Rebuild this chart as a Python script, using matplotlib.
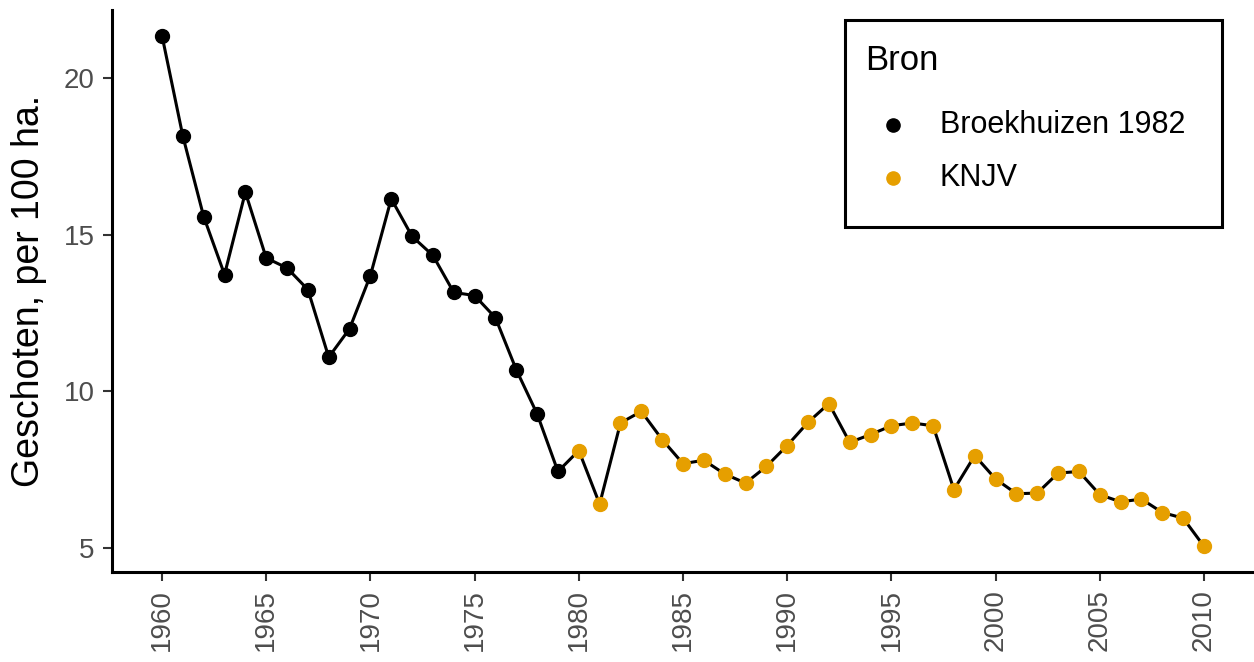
import matplotlib.pyplot as plt
from matplotlib.lines import Line2D
from matplotlib.patches import Rectangle

plt.rcParams['font.family'] = ['Liberation Sans', 'DejaVu Sans']

# jaren en aantallen geschoten per 100 ha
jaren_broek = list(range(1960, 1980))
waarden_broek = [21.36, 18.15, 15.58, 13.73, 16.36, 14.26, 13.94, 13.25, 11.09, 12.0,
                 13.70, 16.15, 14.95, 14.34, 13.16, 13.06, 12.35, 10.69, 9.28, 7.44]
jaren_knjv = list(range(1980, 2011))
waarden_knjv = [8.11, 6.40, 8.99, 9.36, 8.46, 7.69, 7.80, 7.36, 7.07, 7.60,
                8.27, 9.01, 9.61, 8.37, 8.62, 8.90, 8.99, 8.90, 6.86, 7.95,
                7.20, 6.73, 6.75, 7.39, 7.44, 6.70, 6.47, 6.56, 6.13, 5.95, 5.05]
bronnen = ['Broekhuizen 1982', 'KNJV']
kleuren = ['black', '#E69F00']
xticks = list(range(1960, 2011, 5))
yticks = [5, 10, 15, 20]

W, H = 1254, 662
fig = plt.figure(figsize=(W / 100, H / 100), dpi=100)
ax = fig.add_axes([112 / W, 90 / H, 1142 / W, 562 / H])

alle_jaren = jaren_broek + jaren_knjv
alle_waarden = waarden_broek + waarden_knjv
ax.plot(alle_jaren, alle_waarden, color='black', lw=2.2, zorder=2)
ax.plot(jaren_broek, waarden_broek, 'o', color=kleuren[0], ms=10, zorder=3)
ax.plot(jaren_knjv, waarden_knjv, 'o', color=kleuren[1], ms=10, zorder=3)

ax.set_xlim(1957.6, 2012.4)
ax.set_ylim(4.23, 22.18)
ax.set_xticks(xticks)
ax.set_yticks(yticks)
ax.tick_params(axis='x', labelrotation=90)
ax.tick_params(length=6.5, width=1.5, color='#333333', labelcolor='#4d4d4d',
               labelsize=20, pad=6)
ax.set_ylabel('Geschoten, per 100 ha.', fontsize=27, labelpad=12)

for s in ['top', 'right']:
    ax.spines[s].set_visible(False)
for s in ['left', 'bottom']:
    ax.spines[s].set_linewidth(2.2)
    ax.spines[s].set_color('black')

# legenda met de hand, in figuurpixels (vanaf boven)
def fx(px):
    return px / W

def fy(py):
    return 1 - py / H

fig.patches.append(Rectangle((fx(845), fy(227)), fx(1222) - fx(845), fy(20) - fy(227),
                             transform=fig.transFigure, fill=False,
                             edgecolor='black', lw=2.2))
fig.text(fx(865), fy(60), 'Bron', fontsize=25, va='center', ha='left')
for i, (naam, kleur) in enumerate(zip(bronnen, kleuren)):
    y = 125 + i * 53
    fig.add_artist(Line2D([fx(893)], [fy(y)], ls='none', marker='o', color=kleur,
                          ms=9.5, transform=fig.transFigure))
    fig.text(fx(940), fy(y), naam, fontsize=22, va='center', ha='left')

fig.savefig('out.png', dpi=100)
